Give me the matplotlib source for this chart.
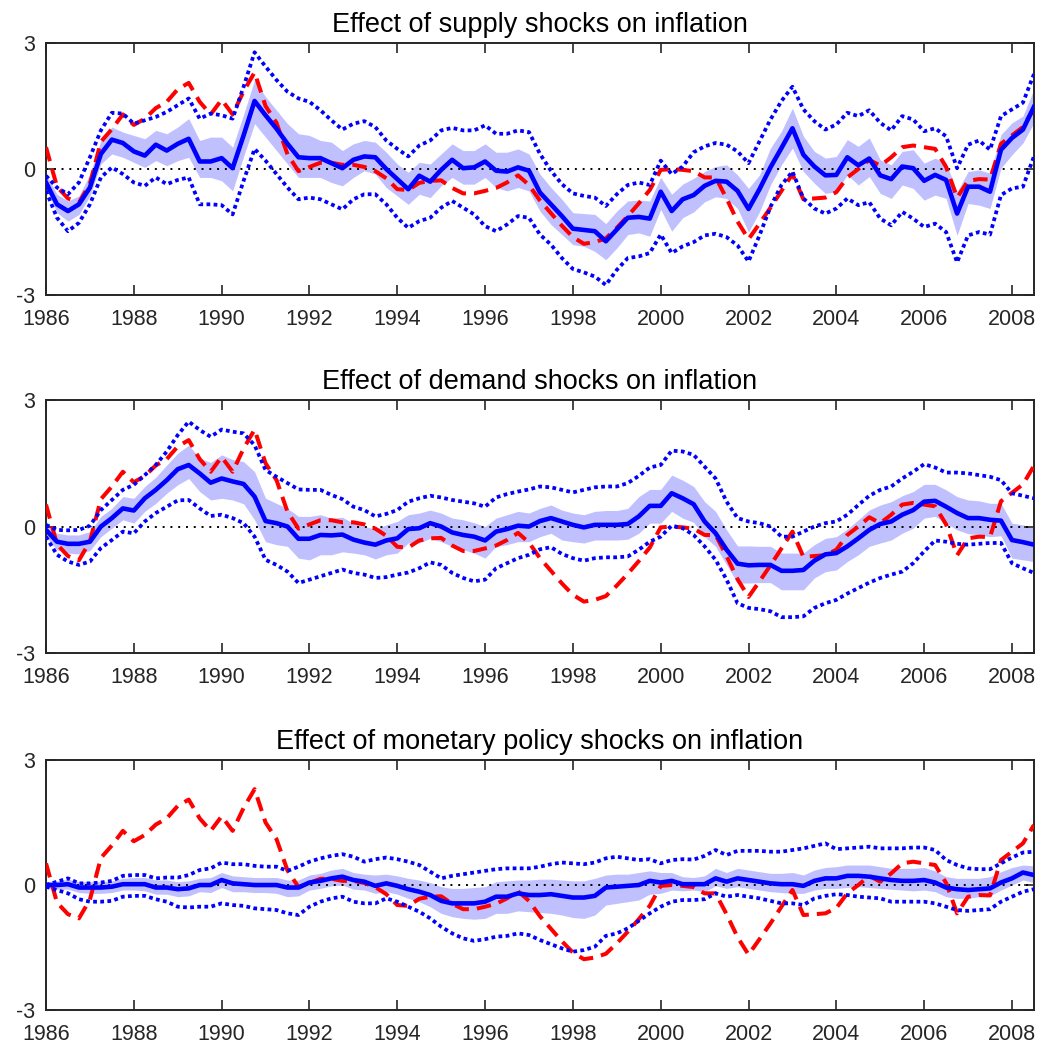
import matplotlib
matplotlib.use("Agg")
import matplotlib.pyplot as plt
import numpy as np

plt.rcParams["font.family"] = ["Liberation Sans", "DejaVu Sans"]

# quarterly observations, 1986Q1 .. 2008Q3
quarters = np.arange(1986, 2008.51, 0.25)

# actual inflation (red dashed, same in every panel)
inflation = [
    0.52, -0.42, -0.70, -0.80,
    -0.35, 0.65, 0.95, 1.30,
    1.05, 1.20, 1.45, 1.60,
    1.90, 2.05, 1.60, 1.30,
    1.65, 1.30, 1.85, 2.30,
    1.50, 1.10, 0.35, -0.05,
    0.05, 0.15, 0.15, 0.10,
    0.10, 0.05, -0.05, -0.22,
    -0.48, -0.50, -0.33, -0.28,
    -0.27, -0.45, -0.58, -0.58,
    -0.52, -0.45, -0.32, -0.15,
    -0.38, -0.75, -1.05, -1.35,
    -1.62, -1.78, -1.74, -1.65,
    -1.40, -1.12, -0.82, -0.50,
    -0.02, 0.00, -0.02, -0.05,
    -0.20, -0.20, -0.70, -1.25,
    -1.67, -1.30, -0.92, -0.52,
    -0.12, -0.72, -0.70, -0.68,
    -0.55, -0.20, 0.00, 0.22,
    0.08, 0.28, 0.52, 0.56,
    0.52, 0.48, 0.05, -0.68,
    -0.28, -0.24, -0.25, 0.60,
    0.80, 1.00, 1.44,
]

### Supply shocks ###
supply_med = [
    -0.32, -0.84, -1.00, -0.84,
    -0.44, 0.36, 0.70, 0.62,
    0.42, 0.32, 0.58, 0.44,
    0.60, 0.72, 0.18, 0.18,
    0.26, 0.02, 0.80, 1.62,
    1.28, 0.96, 0.60, 0.28,
    0.26, 0.26, 0.14, 0.02,
    0.22, 0.30, 0.28, 0.00,
    -0.24, -0.48, -0.16, -0.30,
    -0.02, 0.22, 0.02, 0.04,
    0.18, -0.04, -0.06, 0.04,
    -0.04, -0.56, -0.84, -1.12,
    -1.42, -1.45, -1.48, -1.72,
    -1.44, -1.16, -1.14, -1.18,
    -0.54, -1.00, -0.72, -0.62,
    -0.40, -0.28, -0.30, -0.52,
    -0.95, -0.48, 0.04, 0.50,
    0.97, 0.34, 0.06, -0.15,
    -0.14, 0.28, 0.09, 0.25,
    -0.15, -0.24, 0.06, 0.02,
    -0.28, -0.14, -0.26, -1.06,
    -0.42, -0.42, -0.54, 0.46,
    0.74, 0.94, 1.48,
]
supply_band_hi = [
    -0.12, -0.60, -0.76, -0.64,
    -0.12, 0.68, 1.00, 0.88,
    0.80, 0.72, 0.92, 0.84,
    1.00, 1.20, 0.68, 0.76,
    0.76, 0.52, 1.30, 2.12,
    1.72, 1.40, 1.08, 0.84,
    0.80, 0.68, 0.64, 0.44,
    0.60, 0.68, 0.64, 0.40,
    0.12, -0.08, 0.16, 0.12,
    0.36, 0.60, 0.44, 0.44,
    0.60, 0.40, 0.40, 0.48,
    0.36, -0.12, -0.44, -0.72,
    -1.04, -1.06, -1.08, -1.30,
    -1.00, -0.76, -0.74, -0.76,
    -0.20, -0.60, -0.36, -0.22,
    -0.06, 0.06, 0.10, -0.14,
    -0.46, -0.14, 0.50, 0.90,
    1.45, 0.78, 0.42, 0.26,
    0.30, 0.70, 0.54, 0.74,
    0.22, 0.10, 0.42, 0.46,
    0.14, 0.26, 0.14, -0.54,
    -0.06, -0.02, -0.10, 0.82,
    1.10, 1.26, 1.90,
]
supply_band_lo = [
    -0.44, -1.04, -1.24, -1.08,
    -0.64, 0.12, 0.36, 0.28,
    0.16, 0.04, 0.20, 0.08,
    0.20, 0.28, -0.20, -0.20,
    -0.28, -0.52, 0.30, 1.08,
    0.76, 0.44, 0.12, -0.20,
    -0.20, -0.20, -0.32, -0.40,
    -0.20, -0.04, -0.12, -0.44,
    -0.64, -0.84, -0.60, -0.68,
    -0.40, -0.20, -0.36, -0.36,
    -0.20, -0.44, -0.52, -0.44,
    -0.52, -1.00, -1.32, -1.56,
    -1.80, -1.84, -1.96, -2.16,
    -1.88, -1.56, -1.52, -1.60,
    -0.96, -1.48, -1.16, -1.02,
    -0.78, -0.66, -0.70, -0.94,
    -1.50, -1.02, -0.38, 0.10,
    0.50, -0.06, -0.34, -0.58,
    -0.54, -0.14, -0.38, -0.18,
    -0.58, -0.70, -0.38, -0.46,
    -0.74, -0.62, -0.70, -1.58,
    -0.82, -0.86, -0.94, 0.02,
    0.34, 0.62, 1.10,
]
supply_up = [
    -0.16, -0.44, -0.60, -0.32,
    0.28, 0.92, 1.34, 1.32,
    1.08, 1.16, 1.24, 1.36,
    1.52, 1.68, 1.20, 1.32,
    1.28, 1.20, 1.96, 2.78,
    2.44, 2.12, 1.84, 1.68,
    1.60, 1.40, 1.16, 0.94,
    1.08, 1.14, 1.00, 0.68,
    0.48, 0.30, 0.56, 0.68,
    0.92, 0.98, 0.92, 0.92,
    1.04, 0.84, 0.84, 0.92,
    0.88, 0.36, -0.04, -0.36,
    -0.58, -0.64, -0.68, -0.88,
    -0.60, -0.38, -0.32, -0.38,
    0.20, -0.12, 0.06, 0.40,
    0.54, 0.62, 0.58, 0.42,
    0.14, 0.66, 1.18, 1.62,
    1.96, 1.42, 1.14, 0.94,
    1.06, 1.34, 1.26, 1.40,
    1.10, 0.92, 1.26, 1.18,
    0.90, 0.97, 0.78, 0.02,
    0.58, 0.68, 0.46, 1.26,
    1.42, 1.58, 2.26,
]
supply_dn = [
    -0.52, -1.16, -1.48, -1.28,
    -0.84, -0.20, 0.04, -0.12,
    -0.32, -0.40, -0.20, -0.36,
    -0.26, -0.20, -0.84, -0.84,
    -0.86, -1.08, -0.28, 0.48,
    0.20, -0.12, -0.44, -0.72,
    -0.68, -0.72, -0.84, -0.96,
    -0.72, -0.60, -0.60, -0.84,
    -1.16, -1.40, -1.24, -1.16,
    -0.92, -0.76, -0.92, -1.08,
    -1.36, -1.48, -1.32, -1.12,
    -1.16, -1.56, -1.80, -2.12,
    -2.38, -2.46, -2.56, -2.76,
    -2.40, -2.12, -2.08, -2.00,
    -1.56, -2.00, -1.84, -1.74,
    -1.58, -1.54, -1.62, -1.82,
    -2.20, -1.58, -0.90, -0.38,
    -0.06, -0.70, -0.94, -1.06,
    -0.94, -0.70, -0.86, -0.79,
    -1.18, -1.34, -1.02, -1.18,
    -1.38, -1.30, -1.50, -2.22,
    -1.58, -1.50, -1.56, -0.62,
    -0.46, -0.42, 0.30,
]

### Demand shocks ###
demand_med = [
    -0.08, -0.36, -0.41, -0.41,
    -0.36, 0.00, 0.20, 0.43,
    0.38, 0.67, 0.87, 1.10,
    1.36, 1.46, 1.26, 1.04,
    1.14, 1.07, 1.01, 0.71,
    0.13, 0.08, 0.00, -0.29,
    -0.29, -0.20, -0.21, -0.19,
    -0.31, -0.38, -0.43, -0.33,
    -0.28, -0.06, -0.04, 0.08,
    0.00, -0.14, -0.20, -0.24,
    -0.33, -0.12, -0.06, 0.02,
    0.00, 0.13, 0.20, 0.12,
    0.04, -0.02, 0.04, 0.04,
    0.04, 0.06, 0.24, 0.49,
    0.49, 0.79, 0.67, 0.53,
    0.12, -0.16, -0.55, -0.88,
    -0.92, -0.91, -0.91, -1.05,
    -1.05, -1.03, -0.81, -0.66,
    -0.63, -0.47, -0.28, -0.08,
    0.06, 0.12, 0.28, 0.39,
    0.59, 0.61, 0.47, 0.32,
    0.20, 0.20, 0.16, 0.14,
    -0.32, -0.37, -0.43,
]
demand_band_hi = [
    0.04, -0.16, -0.20, -0.20,
    -0.12, 0.24, 0.43, 0.71,
    0.67, 0.95, 1.17, 1.46,
    1.74, 1.93, 1.62, 1.52,
    1.70, 1.59, 1.54, 1.30,
    0.67, 0.55, 0.43, 0.24,
    0.24, 0.28, 0.20, 0.22,
    0.08, 0.00, -0.06, 0.04,
    0.12, 0.28, 0.32, 0.39,
    0.32, 0.20, 0.16, 0.09,
    0.00, 0.20, 0.28, 0.36,
    0.32, 0.43, 0.51, 0.39,
    0.32, 0.28, 0.36, 0.38,
    0.38, 0.43, 0.71, 0.88,
    0.88, 1.22, 1.10, 0.95,
    0.59, 0.36, -0.08, -0.46,
    -0.46, -0.47, -0.47, -0.63,
    -0.63, -0.63, -0.43, -0.28,
    -0.24, -0.06, 0.16, 0.39,
    0.51, 0.59, 0.73, 0.83,
    1.00, 1.00, 0.87, 0.71,
    0.63, 0.61, 0.55, 0.55,
    0.08, 0.04, -0.04,
]
demand_band_lo = [
    -0.24, -0.55, -0.63, -0.65,
    -0.57, -0.24, -0.04, 0.16,
    0.08, 0.36, 0.55, 0.79,
    0.99, 1.14, 0.83, 0.63,
    0.67, 0.63, 0.54, 0.16,
    -0.36, -0.43, -0.47, -0.75,
    -0.79, -0.67, -0.67, -0.60,
    -0.63, -0.67, -0.77, -0.67,
    -0.63, -0.39, -0.39, -0.28,
    -0.36, -0.47, -0.55, -0.63,
    -0.75, -0.47, -0.43, -0.36,
    -0.36, -0.24, -0.16, -0.32,
    -0.36, -0.39, -0.32, -0.32,
    -0.32, -0.30, -0.16, 0.08,
    0.08, 0.36, 0.20, 0.10,
    -0.24, -0.47, -0.91, -1.34,
    -1.34, -1.33, -1.33, -1.50,
    -1.50, -1.50, -1.22, -1.07,
    -1.03, -0.83, -0.67, -0.47,
    -0.39, -0.32, -0.16, -0.04,
    0.20, 0.24, 0.08, -0.08,
    -0.17, -0.20, -0.24, -0.22,
    -0.75, -0.79, -0.83,
]
demand_up = [
    0.04, -0.08, -0.09, -0.08,
    0.02, 0.39, 0.63, 0.87,
    0.99, 1.22, 1.46, 1.78,
    2.17, 2.49, 2.29, 2.13,
    2.30, 2.25, 2.21, 1.93,
    1.34, 1.18, 1.03, 0.88,
    0.87, 0.87, 0.75, 0.65,
    0.47, 0.39, 0.24, 0.30,
    0.39, 0.59, 0.67, 0.73,
    0.69, 0.63, 0.59, 0.55,
    0.47, 0.69, 0.77, 0.83,
    0.88, 0.95, 0.93, 0.87,
    0.81, 0.87, 0.93, 0.95,
    0.95, 1.03, 1.20, 1.40,
    1.46, 1.80, 1.78, 1.70,
    1.42, 1.14, 0.59, 0.20,
    0.12, 0.08, 0.00, -0.24,
    -0.24, -0.12, 0.00, 0.08,
    0.12, 0.28, 0.51, 0.73,
    0.87, 0.95, 1.14, 1.30,
    1.48, 1.40, 1.28, 1.28,
    1.26, 1.22, 1.18, 1.10,
    0.79, 0.73, 0.67,
]
demand_dn = [
    -0.24, -0.67, -0.83, -0.91,
    -0.83, -0.51, -0.32, -0.12,
    -0.16, 0.12, 0.32, 0.47,
    0.62, 0.63, 0.43, 0.25,
    0.28, 0.20, 0.08, -0.24,
    -0.79, -0.91, -1.07, -1.34,
    -1.26, -1.18, -1.10, -1.02,
    -1.10, -1.14, -1.22, -1.20,
    -1.14, -1.09, -0.99, -0.85,
    -0.91, -1.10, -1.22, -1.30,
    -1.26, -0.99, -0.87, -0.75,
    -0.67, -0.54, -0.49, -0.65,
    -0.75, -0.81, -0.75, -0.73,
    -0.73, -0.71, -0.55, -0.36,
    -0.24, 0.02, -0.04, -0.20,
    -0.47, -0.79, -1.26, -1.82,
    -1.93, -1.96, -2.01, -2.15,
    -2.15, -2.13, -1.93, -1.82,
    -1.74, -1.59, -1.46, -1.33,
    -1.22, -1.14, -1.07, -0.87,
    -0.59, -0.33, -0.36, -0.41,
    -0.43, -0.41, -0.39, -0.39,
    -0.87, -0.99, -1.10,
]

### Monetary policy shocks ###
money_med = [
    0.00, 0.00, 0.02, -0.06,
    -0.06, -0.06, -0.04, 0.02,
    0.02, 0.02, -0.06, -0.06,
    -0.10, -0.08, 0.00, 0.00,
    0.12, 0.04, 0.02, 0.00,
    0.00, 0.00, -0.06, -0.06,
    0.06, 0.10, 0.16, 0.20,
    0.12, 0.08, -0.02, 0.04,
    -0.02, -0.10, -0.16, -0.24,
    -0.38, -0.44, -0.44, -0.44,
    -0.40, -0.28, -0.28, -0.20,
    -0.24, -0.24, -0.22, -0.26,
    -0.30, -0.30, -0.26, -0.06,
    -0.04, -0.02, 0.00, 0.10,
    0.06, 0.10, 0.02, 0.02,
    0.02, 0.16, 0.08, 0.16,
    0.12, 0.08, 0.04, 0.02,
    0.02, -0.02, 0.10, 0.16,
    0.16, 0.22, 0.22, 0.20,
    0.16, 0.12, 0.10, 0.10,
    0.12, 0.06, -0.06, -0.10,
    -0.12, -0.10, -0.08, 0.06,
    0.16, 0.30, 0.24,
]
money_band_hi = [
    0.08, 0.10, 0.14, 0.08,
    0.08, 0.08, 0.10, 0.16,
    0.18, 0.18, 0.12, 0.12,
    0.08, 0.10, 0.16, 0.18,
    0.30, 0.22, 0.20, 0.18,
    0.18, 0.18, 0.12, 0.12,
    0.24, 0.28, 0.36, 0.40,
    0.30, 0.26, 0.24, 0.26,
    0.22, 0.16, 0.12, 0.06,
    -0.04, -0.08, -0.08, -0.06,
    -0.04, 0.08, 0.10, 0.12,
    0.12, 0.14, 0.14, 0.12,
    0.10, 0.10, 0.16, 0.24,
    0.26, 0.26, 0.30, 0.34,
    0.30, 0.30, 0.20, 0.18,
    0.22, 0.40, 0.30, 0.40,
    0.36, 0.32, 0.28, 0.28,
    0.30, 0.24, 0.36, 0.42,
    0.44, 0.48, 0.48, 0.48,
    0.44, 0.40, 0.40, 0.40,
    0.42, 0.34, 0.20, 0.16,
    0.16, 0.16, 0.20, 0.32,
    0.42, 0.48, 0.46,
]
money_band_lo = [
    -0.08, -0.10, -0.10, -0.18,
    -0.20, -0.20, -0.18, -0.12,
    -0.12, -0.14, -0.22, -0.22,
    -0.28, -0.26, -0.16, -0.18,
    -0.06, -0.16, -0.16, -0.18,
    -0.18, -0.20, -0.28, -0.26,
    -0.12, -0.08, -0.02, 0.00,
    -0.10, -0.12, -0.20, -0.16,
    -0.22, -0.32, -0.40, -0.52,
    -0.68, -0.76, -0.80, -0.82,
    -0.80, -0.68, -0.68, -0.62,
    -0.64, -0.66, -0.68, -0.72,
    -0.78, -0.80, -0.72, -0.48,
    -0.44, -0.40, -0.36, -0.22,
    -0.20, -0.12, -0.14, -0.12,
    -0.16, -0.02, -0.08, -0.04,
    -0.08, -0.12, -0.16, -0.18,
    -0.20, -0.20, -0.12, -0.08,
    -0.08, -0.06, -0.04, -0.06,
    -0.08, -0.10, -0.12, -0.14,
    -0.12, -0.16, -0.28, -0.32,
    -0.32, -0.28, -0.26, -0.12,
    0.00, 0.12, 0.06,
]
money_up = [
    0.00, 0.08, 0.16, 0.04,
    0.04, 0.06, 0.10, 0.22,
    0.24, 0.24, 0.16, 0.18,
    0.18, 0.24, 0.36, 0.40,
    0.54, 0.50, 0.50, 0.46,
    0.44, 0.44, 0.34, 0.44,
    0.56, 0.64, 0.70, 0.74,
    0.68, 0.56, 0.62, 0.66,
    0.62, 0.56, 0.48, 0.32,
    0.16, 0.22, 0.26, 0.30,
    0.34, 0.38, 0.40, 0.40,
    0.40, 0.44, 0.50, 0.54,
    0.52, 0.50, 0.54, 0.64,
    0.68, 0.64, 0.60, 0.62,
    0.52, 0.60, 0.62, 0.61,
    0.70, 0.84, 0.72, 0.82,
    0.82, 0.82, 0.80, 0.80,
    0.84, 0.88, 0.94, 1.00,
    0.86, 0.88, 0.90, 0.92,
    0.88, 0.88, 0.88, 0.90,
    0.90, 0.84, 0.60, 0.48,
    0.40, 0.38, 0.38, 0.52,
    0.66, 0.78, 0.80,
]
money_dn = [
    -0.04, -0.12, -0.20, -0.34,
    -0.40, -0.40, -0.38, -0.28,
    -0.26, -0.26, -0.34, -0.40,
    -0.52, -0.54, -0.52, -0.52,
    -0.44, -0.48, -0.50, -0.56,
    -0.58, -0.60, -0.68, -0.72,
    -0.52, -0.40, -0.32, -0.28,
    -0.40, -0.44, -0.44, -0.32,
    -0.40, -0.52, -0.64, -0.80,
    -1.00, -1.16, -1.28, -1.34,
    -1.30, -1.24, -1.22, -1.16,
    -1.20, -1.32, -1.42, -1.52,
    -1.60, -1.56, -1.48, -1.22,
    -1.16, -1.04, -0.86, -0.68,
    -0.52, -0.40, -0.36, -0.36,
    -0.34, -0.20, -0.28, -0.24,
    -0.28, -0.32, -0.38, -0.44,
    -0.44, -0.48, -0.32, -0.26,
    -0.22, -0.24, -0.28, -0.30,
    -0.32, -0.40, -0.40, -0.40,
    -0.40, -0.44, -0.52, -0.60,
    -0.62, -0.60, -0.58, -0.40,
    -0.28, -0.16, -0.10,
]

titles = [
    "Effect of supply shocks on inflation",
    "Effect of demand shocks on inflation",
    "Effect of monetary policy shocks on inflation",
]
panels = [
    (supply_med, supply_band_lo, supply_band_hi, supply_up, supply_dn),
    (demand_med, demand_band_lo, demand_band_hi, demand_up, demand_dn),
    (money_med, money_band_lo, money_band_hi, money_up, money_dn),
]
# axes boxes in figure fractions (left, bottom, width, height)
boxes = [
    (0.0442, 0.7182, 0.9490, 0.2407),
    (0.0442, 0.3763, 0.9490, 0.2416),
    (0.0442, 0.0353, 0.9490, 0.2388),
]

fig = plt.figure(figsize=(10.41, 10.47), dpi=100)

for title, (med, lo, hi, up, dn), box in zip(titles, panels, boxes):
    ax = fig.add_axes(box)
    ax.fill_between(quarters, lo, hi, color="#c0c0ff", lw=0, zorder=1)
    ax.axhline(0, color="black", ls=(0, (1, 3)), lw=1.4, zorder=2)
    ax.plot(quarters, inflation, color="red", ls=(0, (3.6, 2.0)), lw=2.9,
            dash_capstyle="butt", zorder=3)
    ax.plot(quarters, up, color="blue", ls=(0, (1, 0.9)), lw=2.7,
            dash_capstyle="butt", zorder=4)
    ax.plot(quarters, dn, color="blue", ls=(0, (1, 0.9)), lw=2.7,
            dash_capstyle="butt", zorder=4)
    ax.plot(quarters, med, color="blue", lw=3.3, zorder=5)

    ax.set_xlim(1986, 2008.5)
    ax.set_ylim(-3, 3)
    ax.set_xticks(range(1986, 2009, 2))
    ax.set_yticks([-3, 0, 3])
    ax.set_yticklabels(["-3", "0", "3"])
    ax.tick_params(direction="in", top=True, right=True, length=7, width=1.2,
                   labelsize=15.5, colors="#262626")
    ax.tick_params(axis="y", pad=8)
    ax.tick_params(axis="x", pad=10)
    for s in ax.spines.values():
        s.set_linewidth(1.4)
        s.set_color("#262626")
    ax.set_title(title, fontsize=19.5, pad=8, color="black")

fig.savefig("out.png", dpi=100)
